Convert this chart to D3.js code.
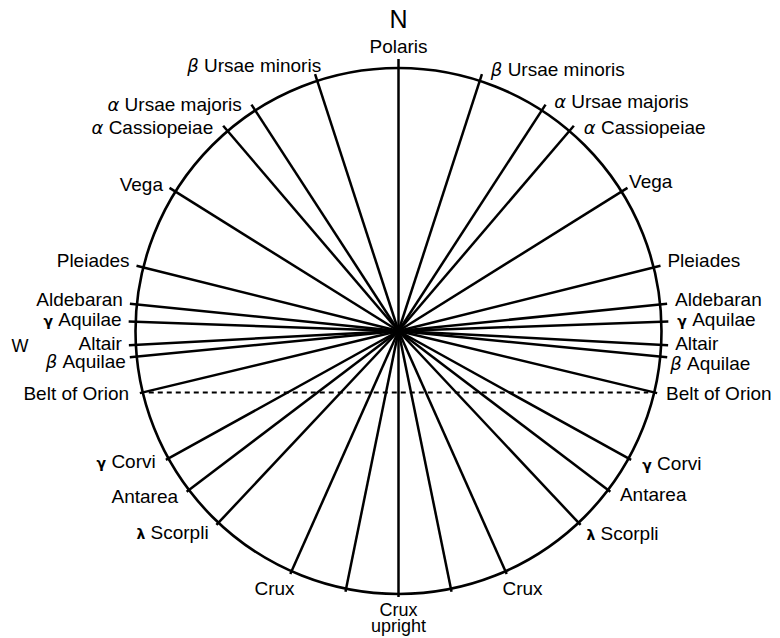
<!DOCTYPE html>
<html>
<head>
<meta charset="utf-8">
<script src="https://cdn.jsdelivr.net/npm/d3@7"></script>
<style>
  html, body { margin: 0; padding: 0; background: #fff; }
  svg { display: block; }
  .lbl { font-family: "Liberation Sans", Arial, Helvetica, sans-serif; font-size: 19px; fill: #000; }
  .greek { font-family: "DejaVu Sans", sans-serif; }
</style>
</head>
<body>
<svg id="compass" width="780" height="638"></svg>
<script>
// Star bearings (degrees from north), mirrored on east and west side
const bearings = [0, 18, 33, 40.5, 58, 76, 84.2, 88, 93, 95.6, 103.5, 119, 127.2, 136.8, 156, 168.5, 180];
const greek = ["", "β", "α", "α", "", "", "", "γ", "", "β", "", "γ", "", "λ", "", "", ""];
const names = ["Polaris", "Ursae minoris", "Ursae majoris", "Cassiopeiae", "Vega", "Pleiades",
  "Aldebaran", "Aquilae", "Altair", "Aquilae", "Belt of Orion", "Corvi", "Antarea", "Scorpli",
  "Crux", "", "Crux upright"];
const horizonStar = "Belt of Orion"; // dashed chord

const width = 780;
const height = 638;
const cx = 398.5;
const cy = 331;
const R = 263;

// label tweaks [dx, dy] per side, so labels don't collide
const nudgeW = { 1: [11, -4], 2: [-4, 4], 3: [-4, 6], 5: [0, -3], 6: [0, -2], 9: [3, 5], 12: [1, 2], 13: [1, 4] };
const nudgeE = { 1: [4, 0], 2: [3, 1], 3: [4, 6], 4: [-5, -3], 5: [0, -3], 6: [1, -2], 7: [2, 0], 9: [-4, 7], 10: [-2, 0], 11: [1, 2], 13: [-3, 5] };

const deg = d3.scaleLinear().domain([0, 360]).range([0, 2 * Math.PI]);
const pt = (b, r) => d3.pointRadial(deg(b), r);

// one ray per side, except north and south
const rays = [];
bearings.forEach((b, i) => {
  if (b === 0 || b === 180) rays.push({ i, b, side: 0 });
  else {
    rays.push({ i, b: -b, side: -1 });
    rays.push({ i, b: b, side: 1 });
  }
});

const svg = d3.select('#compass');
svg.append('rect').attr('width', width).attr('height', height).attr('fill', '#fff');

const g = svg.append('g').attr('transform', `translate(${cx}, ${cy})`);

g.append('circle')
  .attr('r', R)
  .attr('fill', 'none')
  .attr('stroke', '#000')
  .attr('stroke-width', 2.6);

// dashed line between the two Belt of Orion points
const hb = bearings[names.indexOf(horizonStar)];
const pl = pt(-hb, R), pr = pt(hb, R);
g.append('line')
  .attr('x1', pl[0] + 6).attr('y1', pl[1])
  .attr('x2', pr[0] - 6).attr('y2', pr[1])
  .attr('stroke', '#000')
  .attr('stroke-width', 2)
  .attr('stroke-dasharray', '5,4');

// rays from the centre, sticking out a little past the circle
const ext = (b) => Math.abs(b) === 0 ? 9 : (Math.abs(b) <= 96 ? 7 : 3);
g.selectAll('line.ray')
  .data(rays)
  .join('line')
  .attr('class', 'ray')
  .attr('x1', 0).attr('y1', 0)
  .attr('x2', (d) => pt(d.b, R + ext(d.b))[0])
  .attr('y2', (d) => pt(d.b, R + ext(d.b))[1])
  .attr('stroke', '#000')
  .attr('stroke-width', 2.5)
  .attr('stroke-linecap', 'butt');

// labels
const labelled = rays.filter((d) => names[d.i] !== '');

g.selectAll('text.lbl')
  .data(labelled)
  .join('text')
  .attr('class', 'lbl')
  .each(function (d) {
    const t = d3.select(this);
    const ab = Math.abs(d.b);
    let x, y, anchor;
    if (ab === 0) {
      [x, y] = pt(0, R);
      y -= 15;
      anchor = 'middle';
    } else if (ab === 180) {
      [x, y] = pt(180, R);
      y += 22;
      anchor = 'middle';
    } else if (ab > 150) {
      [x, y] = pt(d.b, R);
      x += d.side * 17;
      y += 24;
      anchor = 'middle';
    } else {
      [x, y] = pt(d.b, R + 10);
      x += d.side * 4;
      y += 5;
      anchor = d.side < 0 ? 'end' : 'start';
      const n = (d.side < 0 ? nudgeW : nudgeE)[d.i];
      if (n) { x += n[0]; y += n[1]; }
    }
    t.attr('x', x).attr('y', y).attr('text-anchor', anchor);

    if (ab === 180) {
      // two-line label under the south point
      const words = names[d.i].split(' ');
      t.style('font-size', '18px');
      t.selectAll('tspan').data(words).join('tspan')
        .attr('x', x).attr('dy', (w, k) => k === 0 ? 0 : 15.5)
        .text((w) => w);
      return;
    }
    const gk = greek[d.i];
    if (gk) {
      const small = gk === 'γ' || gk === 'λ';
      t.append('tspan')
        .attr('class', 'greek')
        .style('font-style', small ? 'normal' : 'italic')
        .style('font-weight', small ? 'bold' : '300')
        .style('font-size', small ? '14px' : '18px')
        .text(gk);
      t.append('tspan').text('\u00a0' + names[d.i]);
    } else {
      t.text(names[d.i]);
    }
  });

// compass letters
g.append('text')
  .attr('class', 'lbl')
  .attr('x', 0).attr('y', 28 - cy)
  .attr('text-anchor', 'middle')
  .style('font-size', '25px')
  .text('N');

g.append('text')
  .attr('class', 'lbl')
  .attr('x', 20 - cx).attr('y', 352 - cy)
  .attr('text-anchor', 'middle')
  .style('font-size', '18px')
  .text('W');
</script>
</body>
</html>
